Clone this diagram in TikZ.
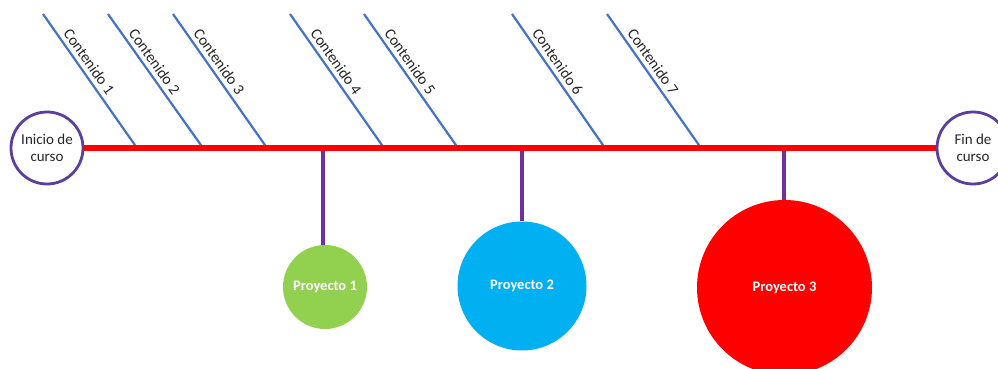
\documentclass[tikz,border=0pt]{standalone}
\usepackage{fontspec}
\setmainfont{Carlito}
\definecolor{ringpurple}{HTML}{5B3F9E}
\definecolor{stempurple}{HTML}{7030A0}
\definecolor{bonesblue}{HTML}{4472C4}
\definecolor{projgreen}{HTML}{92D050}
\definecolor{projcyan}{HTML}{00B0F0}
\definecolor{projred}{HTML}{FF0000}
\definecolor{labelgray}{HTML}{262626}
\begin{document}
\begin{tikzpicture}[x=1pt,y=-1pt,
  endpoint/.style={circle,draw=ringpurple,line width=2.8pt,fill=white,
    minimum size=72pt,inner sep=0pt,align=center,text=labelgray,
    font=\fontsize{15}{16.5}\selectfont},
  spine/.style={draw=projred,line width=5.5pt},
  bone/.style={draw=bonesblue,line width=2.2pt},
  bonelabel/.style={sloped,above,pos=0.4,inner sep=4pt,text=labelgray,
    font=\fontsize{15.5}{17}\selectfont},
  stem/.style={draw=stempurple,line width=3.6pt},
  project/.style={circle,inner sep=0pt,text=white,
    font=\bfseries\fontsize{14.5}{16}\selectfont}]
\useasboundingbox (0,0) rectangle (998,369);
\clip (0,0) rectangle (998,369);

% start and end of the course
\node[endpoint] (ini) at (47,148) {Inicio de\\curso};
\node[endpoint] (fin) at (973,148) {Fin de\\curso};

% contents: upper bones
\foreach \i/\tx/\bx in {1/43/137,2/108/203,3/173/267,4/290/384,5/364/458,6/512/605,7/607/701}{
  \coordinate (c\i t) at (\tx,14);
  \coordinate (c\i b) at (\bx,148);
}

% projects: lower branches
\node[project,fill=projgreen,minimum size=84pt] (p1) at (325,287) {Proyecto 1};
\node[project,fill=projcyan,minimum size=129pt] (p2) at (522,286) {Proyecto 2};
\node[project,fill=projred,minimum size=175pt] (p3) at (784.5,287.5) {Proyecto 3};

\coordinate (s1) at (323,148);
\coordinate (s2) at (522,148);
\coordinate (s3) at (784,148);
\draw[stem] (s1) -- (p1.north -| s1);
\draw[stem] (s2) -- (p2.north -| s2);
\draw[stem] (s3) -- (p3.north -| s3);

\foreach \i in {1,...,7}{
  \draw[bone] (c\i t) -- node[bonelabel] {Contenido \i} (c\i b);
}

% main spine
\draw[spine] (ini.east) -- (fin.west);
\end{tikzpicture}
\end{document}
